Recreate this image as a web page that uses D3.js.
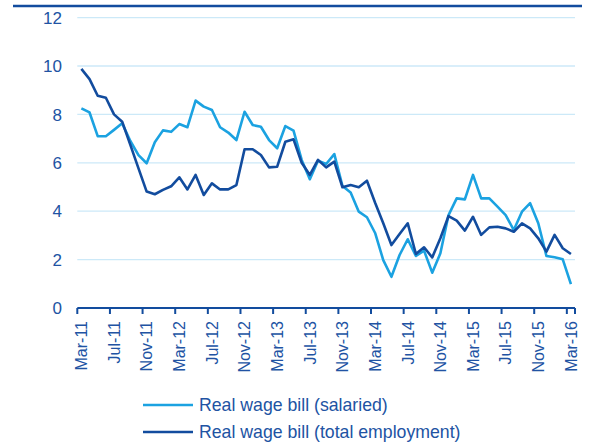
<!DOCTYPE html>
<html>
<head>
<meta charset="utf-8">
<script src="https://cdn.jsdelivr.net/npm/d3@7"></script>
<style>
  body { margin: 0; background: #fff; }
  svg { display: block; font-family: "Liberation Sans", Arial, sans-serif; }
</style>
</head>
<body>
<svg id="chart" width="589" height="443"></svg>
<script>
// monthly, Mar-11 .. Mar-16
var months = [];
var monthNames = ["Jan","Feb","Mar","Apr","May","Jun","Jul","Aug","Sep","Oct","Nov","Dec"];
for (var k = 0; k < 61; k++) {
    var m = (2 + k) % 12, yr = 11 + Math.floor((2 + k) / 12);
    months.push(monthNames[m] + "-" + yr);
}

var tickLabels = ["Mar-11","Jul-11","Nov-11","Mar-12","Jul-12","Nov-12","Mar-13","Jul-13",
                  "Nov-13","Mar-14","Jul-14","Nov-14","Mar-15","Jul-15","Nov-15","Mar-16"];
var yTicks = [0, 2, 4, 6, 8, 10, 12];

var salaried = [8.25, 8.08, 7.1, 7.1, 7.36, 7.63, 6.9, 6.32, 5.98, 6.85, 7.34, 7.28,
                7.6, 7.47, 8.57, 8.32, 8.18, 7.47, 7.25, 6.94, 8.11, 7.56, 7.49, 6.94,
                6.6, 7.52, 7.33, 6.12, 5.32, 6.09, 5.95, 6.36, 5.04, 4.77, 3.98, 3.75,
                3.1, 1.98, 1.29, 2.19, 2.84, 2.15, 2.37, 1.46, 2.26, 3.84, 4.53, 4.49,
                5.5, 4.53, 4.53, 4.19, 3.84, 3.22, 3.98, 4.33, 3.5, 2.15, 2.1, 2.01, 0.99];

var totalEmp = [9.88, 9.46, 8.77, 8.69, 8.0, 7.7, 6.74, 5.77, 4.81, 4.7, 4.88, 5.03,
                5.4, 4.9, 5.5, 4.67, 5.15, 4.9, 4.9, 5.08, 6.56, 6.56, 6.32, 5.81,
                5.84, 6.87, 6.97, 6.0, 5.5, 6.12, 5.81, 6.05, 4.99, 5.08, 4.99, 5.26,
                4.35, 3.5, 2.6, 3.06, 3.5, 2.23, 2.51, 2.09, 2.88, 3.8, 3.61, 3.2,
                3.77, 3.02, 3.33, 3.36, 3.29, 3.15, 3.5, 3.29, 2.88, 2.33, 3.02, 2.47, 2.23];

var seriesNames = ["Real wage bill (salaried)", "Real wage bill (total employment)"];

var dark = "#124c9e", light = "#1ba2e1", textCol = "#2153a3", grid = "#cce9f8";

var svg = d3.select("#chart");

var x = d3.scaleBand().domain(months).range([77.3, 575]).padding(0);
var y = d3.scaleLinear().domain([0, 12]).range([308, 17.6]);

// top border
svg.append("line")
    .attr("x1", 13).attr("x2", 582).attr("y1", 6).attr("y2", 6)
    .attr("stroke", dark).attr("stroke-width", 2.5);

// gridlines
svg.selectAll(".grid")
    .data(yTicks.filter(function (d) { return d > 0; }))
    .enter().append("line")
    .attr("x1", 77.3).attr("x2", 575)
    .attr("y1", function (d) { return y(d); })
    .attr("y2", function (d) { return y(d); })
    .attr("stroke", grid).attr("stroke-width", 1.3);

// y labels
svg.selectAll(".ylab")
    .data(yTicks)
    .enter().append("text")
    .attr("x", 62)
    .attr("y", function (d) { return y(d); })
    .attr("dy", "0.36em")
    .attr("text-anchor", "end")
    .attr("font-size", 17)
    .attr("fill", textCol)
    .text(function (d) { return d; });

// x axis
var xAxis = svg.append("g");
xAxis.append("line")
    .attr("x1", 77.3).attr("x2", 575).attr("y1", y(0)).attr("y2", y(0))
    .attr("stroke", dark).attr("stroke-width", 2);
xAxis.selectAll(".tick")
    .data(tickLabels.concat(["end"]))
    .enter().append("line")
    .attr("x1", function (d) { return d == "end" ? 575 : x(d); })
    .attr("x2", function (d) { return d == "end" ? 575 : x(d); })
    .attr("y1", y(0)).attr("y2", y(0) + 6)
    .attr("stroke", dark).attr("stroke-width", 2);
xAxis.selectAll(".xlab")
    .data(tickLabels)
    .enter().append("text")
    .attr("transform", function (d) {
        return "translate(" + (x(d) + x.bandwidth() / 2) + "," + 321 + ") rotate(-90)";
    })
    .attr("dy", "0.36em")
    .attr("text-anchor", "end")
    .attr("font-size", 16)
    .attr("fill", textCol)
    .text(function (d) { return d; });

var line = d3.line()
    .x(function (d, i) { return x(months[i]) + x.bandwidth() / 2; })
    .y(function (d) { return y(d); });

svg.append("path").datum(salaried)
    .attr("d", line).attr("fill", "none")
    .attr("stroke", light).attr("stroke-width", 2.6).attr("stroke-linejoin", "round");
svg.append("path").datum(totalEmp)
    .attr("d", line).attr("fill", "none")
    .attr("stroke", dark).attr("stroke-width", 2.6).attr("stroke-linejoin", "round");

// legend
var legend = svg.selectAll(".legend")
    .data(seriesNames)
    .enter().append("g")
    .attr("transform", function (d, i) { return "translate(143," + (405 + i * 27) + ")"; });
legend.append("line")
    .attr("x1", 0).attr("x2", 50)
    .attr("stroke", function (d, i) { return i == 0 ? light : dark; })
    .attr("stroke-width", 2.6);
legend.append("text")
    .attr("x", 56).attr("dy", "0.36em")
    .attr("font-size", 17.7)
    .attr("fill", textCol)
    .text(function (d) { return d; });
</script>
</body>
</html>
